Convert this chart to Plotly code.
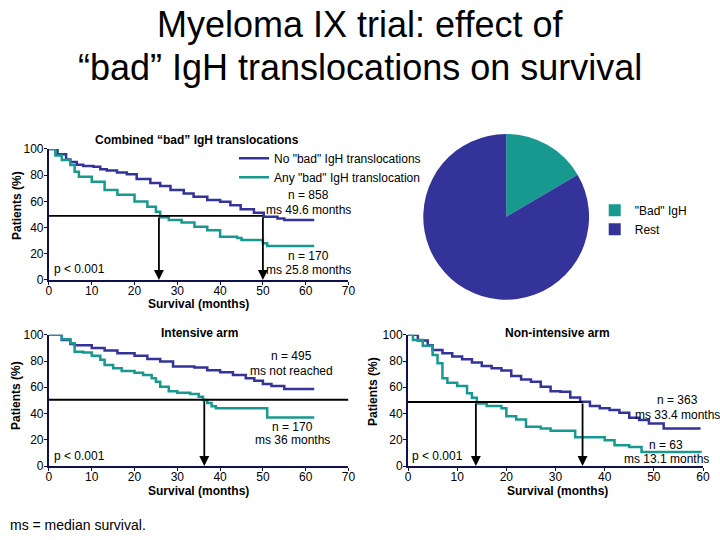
import plotly.graph_objects as go

# Kaplan-Meier survival (%), months
all_no_bad_t = [0, 2, 4, 5, 6.5, 8, 10.4, 12, 13.5, 15.9, 18.2, 20.5, 23.7, 26, 28.4, 31.5, 33.8, 37, 40, 42.4, 44.8, 47.9, 50.2, 53.4, 55, 62]
all_no_bad_s = [100, 96, 92, 90, 88, 87, 86.5, 84.5, 83.5, 82, 80.7, 77, 74, 71.8, 68.7, 66, 63.6, 61, 59.8, 57, 54, 51.4, 48.3, 47, 45.8, 45.8]
all_bad_t = [0, 1.5, 3, 5, 6, 7, 10, 13, 16, 20, 23, 25, 26, 28, 31, 34, 37, 40, 44, 45, 50, 51, 62]
all_bad_s = [100, 95, 91.6, 87.8, 82.7, 78.9, 75, 68.7, 65, 60, 56, 52, 47.8, 45.8, 43.8, 40.7, 38, 33, 32, 30.5, 28, 26, 26]

int_no_bad_t = [0, 3, 5, 6, 10, 13, 16, 20, 23, 26, 29, 34, 37, 40, 43, 46, 48, 50, 52, 55, 62]
int_no_bad_s = [100, 96, 93, 92, 90, 88, 86, 84, 81.6, 79.6, 75.8, 75, 73, 71.4, 69.4, 66.8, 65, 62.5, 61, 58.7, 58.7]
int_bad_t = [0, 3, 5, 6, 8, 10, 12, 13, 15, 17, 20, 22, 24, 25, 26, 28, 30, 33, 35, 36, 37, 38, 39, 51, 62]
int_bad_s = [100, 96.7, 93.6, 87, 86.5, 84, 81, 77, 74.5, 72.4, 71, 69.4, 66.8, 64.3, 60.5, 57, 55.9, 54.8, 52.8, 50.3, 48, 45.6, 44, 37, 37]

nonint_no_bad_t = [0, 2, 4, 5, 7, 9, 11, 13, 15, 17, 19, 21, 23, 25, 27, 29, 31, 33, 35, 37, 39, 41, 43, 45, 47, 49, 52, 59.5]
nonint_no_bad_s = [100, 95.7, 92, 88.5, 86, 83.4, 81.4, 78.8, 76.3, 74.5, 72.7, 68.6, 66, 64.3, 60.5, 57, 56.6, 52.3, 49, 45.7, 44, 42.6, 40.6, 36.7, 35, 32.4, 28.6, 28.6]
nonint_bad_t = [0, 1, 3, 5, 6, 7, 8, 10, 12, 13, 14, 16, 19, 20, 22, 24, 27, 29, 34, 40, 42, 45, 47.5, 59.5]
nonint_bad_s = [100, 96, 91.6, 84.7, 78.3, 66.8, 63.5, 61, 55.4, 52, 47.7, 45.7, 44, 38, 35.5, 30, 28.6, 26.8, 22, 19.6, 15.8, 14.5, 10.7, 10.2]

# median markers: level, end of the horizontal line, arrow positions
medians_all = (48.9, 50, [25.7, 50])
medians_int = (50.5, 70, [36.3])
medians_nonint = (48.8, 35.5, [13.8, 35.5])

pie_labels = ['"Bad" IgH', 'Rest']
pie_values = [170, 858]

NAVY = '#333399'
TEAL = '#18998f'
AXIS = '#10104a'
FONT = 'Liberation Sans, Arial, sans-serif'
W, H = 720, 540

fig = go.Figure()

panels = [
    ('x', 'y', all_no_bad_t, all_no_bad_s, all_bad_t, all_bad_s, True),
    ('x2', 'y2', int_no_bad_t, int_no_bad_s, int_bad_t, int_bad_s, False),
    ('x3', 'y3', nonint_no_bad_t, nonint_no_bad_s, nonint_bad_t, nonint_bad_s, False),
]
for xa, ya, t1, s1, t2, s2, leg in panels:
    fig.add_trace(go.Scatter(x=t1, y=s1, xaxis=xa, yaxis=ya, mode='lines', line_shape='hv',
                             line=dict(color=NAVY, width=2.5), name='No "bad" IgH translocations',
                             showlegend=leg, legend='legend'))
    fig.add_trace(go.Scatter(x=t2, y=s2, xaxis=xa, yaxis=ya, mode='lines', line_shape='hv',
                             line=dict(color=TEAL, width=2.5), name='Any "bad" IgH translocation',
                             showlegend=leg, legend='legend'))

fig.add_trace(go.Pie(labels=pie_labels, values=pie_values, sort=False, direction='clockwise',
                     marker=dict(colors=[TEAL, NAVY], line=dict(width=0)), textinfo='none',
                     domain=dict(x=[0.586, 0.820], y=[0.445, 0.752]), legend='legend2',
                     hoverinfo='label+value'))

# median lines and arrows
for (level, line_end, arrows), xa, ya in [(medians_all, 'x', 'y'), (medians_int, 'x2', 'y2'),
                                         (medians_nonint, 'x3', 'y3')]:
    fig.add_shape(type='line', xref=xa, yref=ya, x0=0, x1=line_end, y0=level, y1=level,
                  line=dict(color='black', width=1.8))
    for ax_x in arrows:
        fig.add_annotation(xref=xa, yref=ya, axref=xa, ayref=ya, x=ax_x, y=0, ax=ax_x, ay=level,
                           text='', showarrow=True, arrowhead=2, arrowsize=1.1, arrowwidth=1.8,
                           arrowcolor='black', standoff=0)

tick_font = dict(family=FONT, size=12, color='black')


def xax(domain, rng, anchor):
    return dict(domain=domain, range=rng, dtick=10, anchor=anchor, showgrid=False, zeroline=False,
                showline=True, linecolor=AXIS, linewidth=2, ticks='outside', ticklen=3,
                tickcolor=AXIS, tickfont=tick_font, ticklabelstandoff=-4)


def yax(domain, anchor):
    return dict(domain=domain, range=[0, 100], dtick=20, anchor=anchor, showgrid=False, zeroline=False,
                showline=True, linecolor=AXIS, linewidth=2, ticks='outside', ticklen=3,
                tickcolor=AXIS, tickfont=tick_font, ticklabelstandoff=-2)


fig.update_layout(
    width=W, height=H, margin=dict(l=0, r=0, t=0, b=0, autoexpand=False),
    paper_bgcolor='white', plot_bgcolor='white',
    font=dict(family=FONT, size=12, color='black'),
    xaxis=xax([0.068, 0.484], [0, 70], 'y'),
    yaxis=yax([0.4815, 0.7241], 'x'),
    xaxis2=xax([0.068, 0.484], [0, 70], 'y2'),
    yaxis2=yax([0.137, 0.380], 'x2'),
    xaxis3=xax([0.5667, 0.9764], [0, 60], 'y3'),
    yaxis3=yax([0.137, 0.380], 'x3'),
    legend=dict(x=0.325, y=0.734, xanchor='left', yanchor='top', bgcolor='rgba(0,0,0,0)',
                font=dict(family=FONT, size=12), tracegroupgap=0, itemwidth=30),
    legend2=dict(x=0.826, y=0.6375, xanchor='left', yanchor='top', bgcolor='rgba(0,0,0,0)',
                 font=dict(family=FONT, size=12), tracegroupgap=0),
    showlegend=True,
)


def note(txt, px_x, px_y, anchor='center', size=12, angle=0):
    fig.add_annotation(text=txt, xref='paper', yref='paper', x=px_x / W, y=1 - px_y / H,
                       xanchor=anchor, yanchor='middle', showarrow=False, textangle=angle,
                       font=dict(family=FONT, size=size, color='black'))


# title
note('Myeloma IX trial: effect of', 360, 25, size=36)
note('“bad” IgH translocations on survival', 360, 68, size=36)

# panel titles, axis titles and free text (pixel positions)
texts = [
    ('<b>Combined “bad” IgH translocations</b>', 197, 140),
    ('n = 858', 308, 195), ('ms 49.6 months', 308, 210),
    ('n = 170', 308, 256), ('ms 25.8 months', 308, 270),
    ('<b>Intensive arm</b>', 199, 333),
    ('n = 495', 291, 356), ('ms not reached', 291, 371),
    ('n = 170', 292, 427), ('ms 36 months', 292, 440),
    ('<b>Non-intensive arm</b>', 557, 333),
    ('n = 363', 677, 400), ('ms 33.4 months', 677, 415),
    ('n = 63', 666, 445), ('ms 13.1 months', 666, 459),
    ('<b>Survival (months)</b>', 198, 304),
    ('<b>Survival (months)</b>', 198, 491),
    ('<b>Survival (months)</b>', 557, 491),
]
for txt, px_x, px_y in texts:
    note(txt, px_x, px_y)

for px_x, px_y in [(17, 206), (16, 396), (373, 392)]:
    note('<b>Patients (%)</b>', px_x, px_y, angle=-90)

for px_x, px_y in [(52, 269), (52, 456), (410, 456)]:
    note('p < 0.001', px_x, px_y, anchor='left')

note('ms = median survival.', 8, 525, anchor='left', size=14)

fig.write_html("out.html", config={'displayModeBar': False},
               post_script="document.body.style.margin='0px';")
